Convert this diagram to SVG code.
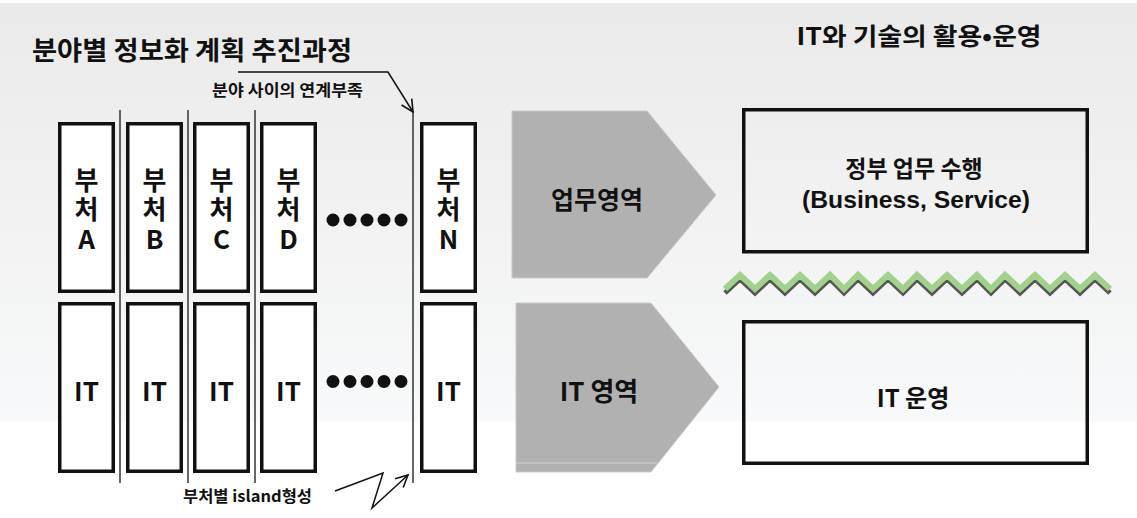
<svg xmlns="http://www.w3.org/2000/svg" width="1137" height="518" viewBox="0 0 1137 518">
<defs>
<linearGradient id="bg" x1="0" y1="0" x2="0" y2="1">
<stop offset="0" stop-color="#eaeaea"/>
<stop offset="0.81" stop-color="#f8f9fa"/>
<stop offset="0.815" stop-color="#ffffff"/>
<stop offset="1" stop-color="#ffffff"/>
</linearGradient>
<marker id="open" viewBox="0 0 14 14" refX="13" refY="7" markerWidth="14" markerHeight="14" markerUnits="userSpaceOnUse" orient="auto">
<path d="M1,1 L13,7 L1,13" fill="none" stroke="#111" stroke-width="1.6"/>
</marker>
<style>
.t{font-family:"Noto Sans CJK KR","Liberation Sans",sans-serif;font-weight:bold;fill:#111;text-anchor:middle;dominant-baseline:central}
.l{font-family:"Liberation Sans",Arial,sans-serif;font-weight:bold;fill:#111;text-anchor:middle;dominant-baseline:central}
.v{font-family:"Noto Sans CJK KR","Liberation Sans",sans-serif;font-weight:bold;fill:#111;text-anchor:middle;writing-mode:vertical-rl;text-orientation:upright;letter-spacing:3.5px;font-size:26px}
.box{fill:#fff;stroke:#111;stroke-width:3.5}
.rbox{fill:none;stroke:#111;stroke-width:3.5}
.sep{stroke:#333;stroke-width:1.5}
.pent{fill:#b1b1b1;stroke:#c9c9c9;stroke-width:1}
.conn{fill:none;stroke:#111;stroke-width:1.5}
.dot{fill:#111}
</style>
</defs>
<rect x="0" y="0" width="1137" height="518" fill="#fff"/>
<rect x="0" y="3" width="1137" height="515" fill="url(#bg)"/>

<g id="titles">
<text class="t" x="192" y="48" font-size="26" textLength="320" lengthAdjust="spacingAndGlyphs">분야별 정보화 계획 추진과정</text>
<text class="t" x="919" y="34" font-size="24" textLength="245" lengthAdjust="spacingAndGlyphs">IT와 기술의 활용•운영</text>
</g>

<g id="separators">
<line class="sep" x1="120" y1="110" x2="120" y2="483"/>
<line class="sep" x1="188" y1="110" x2="188" y2="483"/>
<line class="sep" x1="255" y1="110" x2="255" y2="483"/>
<line class="sep" x1="413" y1="111" x2="413" y2="483"/>
</g>

<g id="deptA">
<rect class="box" x="59.75" y="123.75" width="53.5" height="167.5"/>
<text class="v" x="86.5" y="211">부처A</text>
</g>
<g id="deptB">
<rect class="box" x="127.75" y="123.75" width="53.5" height="167.5"/>
<text class="v" x="154.5" y="211">부처B</text>
</g>
<g id="deptC">
<rect class="box" x="194.75" y="123.75" width="53.5" height="167.5"/>
<text class="v" x="221.5" y="211">부처C</text>
</g>
<g id="deptD">
<rect class="box" x="261.75" y="123.75" width="53.5" height="167.5"/>
<text class="v" x="288.5" y="211">부처D</text>
</g>
<g id="deptN">
<rect class="box" x="421.75" y="123.75" width="53.5" height="167.5"/>
<text class="v" x="448.5" y="211">부처N</text>
</g>

<g id="itA">
<rect class="box" x="59.75" y="303.75" width="53.5" height="167.5"/>
<text class="t" x="86.5" y="389" font-size="26">IT</text>
</g>
<g id="itB">
<rect class="box" x="127.75" y="303.75" width="53.5" height="167.5"/>
<text class="t" x="154.5" y="389" font-size="26">IT</text>
</g>
<g id="itC">
<rect class="box" x="194.75" y="303.75" width="53.5" height="167.5"/>
<text class="t" x="221.5" y="389" font-size="26">IT</text>
</g>
<g id="itD">
<rect class="box" x="261.75" y="303.75" width="53.5" height="167.5"/>
<text class="t" x="288.5" y="389" font-size="26">IT</text>
</g>
<g id="itN">
<rect class="box" x="421.75" y="303.75" width="53.5" height="167.5"/>
<text class="t" x="448.5" y="389" font-size="26">IT</text>
</g>

<g id="dotsTop">
<circle class="dot" cx="333" cy="220" r="6.5"/>
<circle class="dot" cx="350" cy="220" r="6.5"/>
<circle class="dot" cx="367" cy="220" r="6.5"/>
<circle class="dot" cx="384" cy="220" r="6.5"/>
<circle class="dot" cx="401" cy="220" r="6.5"/>
</g>
<g id="dotsBottom">
<circle class="dot" cx="333" cy="381.5" r="6.5"/>
<circle class="dot" cx="350" cy="381.5" r="6.5"/>
<circle class="dot" cx="367" cy="381.5" r="6.5"/>
<circle class="dot" cx="384" cy="381.5" r="6.5"/>
<circle class="dot" cx="401" cy="381.5" r="6.5"/>
</g>

<g id="labelGap">
<text class="t" x="287.5" y="89" font-size="16" textLength="151" lengthAdjust="spacingAndGlyphs">분야 사이의 연계부족</text>
</g>
<g id="labelIsland">
<text class="t" x="247.5" y="495" font-size="16" textLength="129" lengthAdjust="spacingAndGlyphs">부처별 island형성</text>
</g>

<g id="connectors">
<polyline class="conn" points="238,72 388,72 413,112" marker-end="url(#open)"/>
<polyline class="conn" points="335,491 383,473 372,508 408,475" marker-end="url(#open)"/>
</g>

<g id="bizArea">
<polygon class="pent" points="512,111 647,111 716,195 647,278 512,278"/>
<text class="t" x="597" y="198" font-size="25">업무영역</text>
</g>
<g id="itArea">
<polygon class="pent" points="516,303 651,303 719,387 651,472 516,472"/>
<line x1="516" y1="463" x2="658" y2="463" stroke="#cfcfcf" stroke-width="1"/>
<text class="t" x="599" y="389" font-size="26">IT 영역</text>
</g>

<g id="govBusiness">
<rect class="rbox" x="743.75" y="109.75" width="343.5" height="142"/>
<text class="t" x="914" y="167" font-size="23">정부 업무 수행</text>
<text class="l" x="916" y="199" font-size="24" textLength="228" lengthAdjust="spacingAndGlyphs">(Business, Service)</text>
</g>

<g id="zigzag">
<polyline fill="none" stroke="#555" stroke-width="5" points="725,293 740,279 755,293 770,279 785,293 800,279 815,293 830,279 844,293 858,279 873,293 888,279 903,293 917,279 932,293 947,279 962,293 977,279 991,293 1005,279 1020,293 1035,279 1050,293 1065,279 1080,293 1095,279 1110,293"/>
<polyline fill="none" stroke="#a1d18c" stroke-width="6" points="725,289 740,275 755,289 770,275 785,289 800,275 815,289 830,275 844,289 858,275 873,289 888,275 903,289 917,275 932,289 947,275 962,289 977,275 991,289 1005,275 1020,289 1035,275 1050,289 1065,275 1080,289 1095,275 1110,289"/>
</g>

<g id="itOps">
<rect class="rbox" x="743.75" y="321.75" width="343.5" height="141.5"/>
<text class="t" x="913" y="396" font-size="24">IT 운영</text>
</g>
</svg>
